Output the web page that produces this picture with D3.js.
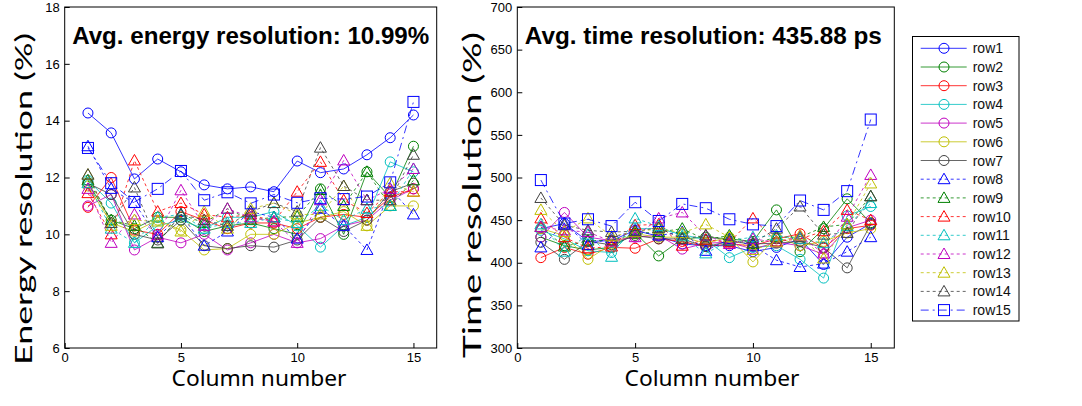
<!DOCTYPE html>
<html><head><meta charset="utf-8">
<script src="https://cdn.jsdelivr.net/npm/d3@7"></script>
<style>body{margin:0;background:#fff;} svg{display:block;}</style>
</head><body>
<svg id="chart" width="1082" height="406"></svg>
<script>
const columns = d3.range(1, 16);
const seriesNames = ["row1","row2","row3","row4","row5","row6","row7","row8","row9","row10","row11","row12","row13","row14","row15"];
const xTicks = [0,5,10,15];
const energyTicks = [6,8,10,12,14,16,18];
const timeTicks = [300,350,400,450,500,550,600,650,700];

const energyRow1  = [14.27,13.57,11.95,12.65,12.2,11.74,11.6,11.67,11.5,12.58,12.17,12.3,12.8,13.4,14.2];
const energyRow2  = [11.8,10.5,10.2,10.6,10.6,10.1,10.3,10.4,10.2,10.0,11.6,10.0,12.2,11.3,13.1];
const energyRow3  = [10.95,12.0,10.15,10.0,10.8,10.5,10.2,10.4,10.4,10.2,10.6,10.7,10.6,11.3,11.6];
const energyRow4  = [11.9,11.1,9.7,10.3,10.5,10.2,10.6,10.6,10.8,10.3,9.55,10.3,10.6,12.55,12.2];
const energyRow5  = [11.0,11.4,9.45,9.9,9.7,10.0,9.45,9.7,10.0,9.7,9.85,10.3,10.5,11.2,11.6];
const energyRow6  = [11.7,10.4,10.1,10.5,10.15,9.45,9.5,10.0,10.0,10.4,10.6,10.8,10.3,11.0,11.0];
const energyRow7  = [11.8,11.4,10.0,9.8,10.5,9.6,9.5,9.6,9.55,9.8,10.6,10.1,10.5,11.5,11.8];
const energyRow8  = [13.1,11.6,11.1,9.9,10.7,9.6,10.1,10.8,10.6,9.85,10.9,10.3,9.45,11.6,10.7];
const energyRow9  = [11.9,10.5,10.3,9.7,10.7,10.4,10.9,10.5,10.6,10.62,11.56,11.0,12.2,11.0,11.9];
const energyRow10 = [11.45,10.0,12.6,10.8,11.1,10.7,10.6,10.7,10.45,11.5,12.55,11.2,10.75,11.5,11.5];
const energyRow11 = [11.8,10.2,9.7,10.6,10.7,10.2,10.4,10.4,10.6,10.4,11.0,10.5,10.9,11.0,12.3];
const energyRow12 = [11.6,9.7,10.7,9.98,11.55,10.3,10.9,10.6,10.45,9.7,11.2,12.6,11.2,11.6,12.3];
const energyRow13 = [12.1,10.3,10.5,10.45,10.1,10.8,10.2,10.9,11.1,10.7,10.7,11.7,10.3,11.8,11.5];
const energyRow14 = [12.1,10.4,11.65,9.68,10.7,10.5,10.3,10.8,11.1,10.8,13.05,11.7,11.2,11.2,12.8];
const energyRow15 = [13.04,11.8,11.14,11.6,12.23,11.2,11.48,11.09,11.4,11.11,11.27,11.24,11.33,11.83,14.66];

const timeRow1  = [440,446,425,426,438,431,422,420,420,413,418,428,398,430,446];
const timeRow2  = [430,420,415,418,435,408,428,430,428,425,462,413,440,475,447];
const timeRow3  = [406,418,410,418,417,428,425,419,422,420,428,434,417,440,444];
const timeRow4  = [438,428,414,412,440,440,433,427,406,418,420,404,382,455,466];
const timeRow5  = [430,459,430,426,430,432,416,423,424,416,424,420,410,441,450];
const timeRow6  = [440,432,404,422,434,430,430,423,430,401,430,420,425,435,440];
const timeRow7  = [424,404,425,421,432,428,428,419,425,422,423,425,418,394,445];
const timeRow8  = [418,446,421,429,438,432,436,414,428,420,403,395,399,413,430];
const timeRow9  = [442,419,426,426,434,436,440,427,432,422,430,430,442,445,478];
const timeRow10 = [452,430,417,419,444,445,420,427,424,452,425,428,437,462,450];
const timeRow11 = [445,413,433,407,452,443,431,411,426,430,432,428,423,443,470];
const timeRow12 = [442,438,436,425,430,452,459,432,422,428,424,431,411,454,503];
const timeRow13 = [462,436,452,431,436,440,435,445,430,415,424,432,405,445,493];
const timeRow14 = [476,444,438,436,437,441,428,432,426,423,440,466,433,435,478];
const timeRow15 = [497,446,451,443,471,449,469,464,451,445,443,473,462,484,568];

const energyData = [energyRow1,energyRow2,energyRow3,energyRow4,energyRow5,energyRow6,energyRow7,energyRow8,energyRow9,energyRow10,energyRow11,energyRow12,energyRow13,energyRow14,energyRow15];
const timeData = [timeRow1,timeRow2,timeRow3,timeRow4,timeRow5,timeRow6,timeRow7,timeRow8,timeRow9,timeRow10,timeRow11,timeRow12,timeRow13,timeRow14,timeRow15];

const colors = ["#0000ff","#008000","#ff0000","#00bfbf","#bf00bf","#bfbf00","#404040","#0000ff","#008000","#ff0000","#00bfbf","#bf00bf","#bfbf00","#404040","#0000ff"];
const markerOf = i => i < 7 ? "circle" : (i < 14 ? "triangle" : "square");
const dashOf = i => i < 7 ? null : (i < 14 ? "3,3" : "8,4,2,4");

const svg = d3.select("#chart");

function drawMarker(g, type, x, y, color) {
  if (type === "circle") {
    g.append("circle").attr("cx", x).attr("cy", y).attr("r", 5)
      .attr("fill", "none").attr("stroke", color).attr("stroke-width", 1);
  } else if (type === "triangle") {
    g.append("path").attr("d", `M${x},${y-6}L${x+6},${y+4.5}L${x-6},${y+4.5}Z`)
      .attr("fill", "none").attr("stroke", color).attr("stroke-width", 1);
  } else {
    g.append("rect").attr("x", x-5.5).attr("y", y-5.5).attr("width", 11).attr("height", 11)
      .attr("fill", "none").attr("stroke", color).attr("stroke-width", 1);
  }
}

function panel(opts) {
  const x = d3.scaleLinear().domain([0,16]).range([opts.x0, opts.x1]);
  const y = d3.scaleLinear().domain(opts.ydom).range([348, 7]);
  const g = svg.append("g");
  opts.data.forEach((vals, i) => {
    const line = d3.line().x((d,j) => x(columns[j])).y(d => y(d));
    g.append("path").datum(vals).attr("d", line).attr("fill","none")
      .attr("stroke", colors[i]).attr("stroke-width", 0.8)
      .attr("stroke-dasharray", dashOf(i));
    vals.forEach((v,j) => drawMarker(g, markerOf(i), x(columns[j]), y(v), colors[i]));
  });
  const xa = g.append("g").attr("transform", "translate(0,348)")
    .call(d3.axisBottom(x).tickValues(xTicks).tickSize(-5).tickPadding(5).tickFormat(d3.format("d")));
  const ya = g.append("g").attr("transform", `translate(${opts.x0},0)`)
    .call(d3.axisLeft(y).tickValues(opts.yticks).tickSize(-5).tickPadding(5).tickFormat(d3.format("d")));
  [xa, ya].forEach(a => {
    a.select(".domain").remove();
    a.selectAll("line").attr("stroke", "#000");
    a.selectAll("text").attr("font-family", "Liberation Sans, Arial, sans-serif").attr("font-size", 13).attr("fill", "#000");
  });
  ya.selectAll("text").attr("dy", "0.32em");
  g.append("rect").attr("x", opts.x0).attr("y", 7).attr("width", opts.x1 - opts.x0).attr("height", 341)
    .attr("fill", "none").attr("stroke", "#000").attr("stroke-width", 1);
  g.append("text").attr("x", opts.x0 + 7.5).attr("y", 44).text(opts.title)
    .attr("font-family", "Liberation Sans, Arial, sans-serif").attr("font-weight", "bold").attr("font-size", 23)
    .attr("textLength", 357).attr("lengthAdjust", "spacingAndGlyphs");
  g.append("text").attr("x", opts.xlabelX).attr("y", 386).attr("text-anchor", "middle")
    .attr("font-family", "Noto Sans, sans-serif").attr("font-size", 21)
    .attr("textLength", 175).attr("lengthAdjust", "spacingAndGlyphs").text("Column number");
  g.append("text").attr("transform", `translate(${opts.ylabelX},${opts.ylabelY}) rotate(-90)`)
    .attr("text-anchor", "middle").attr("font-family", "Lato, sans-serif").attr("font-size", opts.ylabelSize)
    .attr("textLength", opts.ylabelLen).attr("lengthAdjust", "spacingAndGlyphs").text(opts.ylabel);
}

panel({x0: 64.7, x1: 436.7, ydom: [6,18], yticks: energyTicks, data: energyData,
  title: "Avg. energy resolution: 10.99%", xlabelX: 259, ylabel: "Energy resolution (%)",
  ylabelX: 32, ylabelY: 199, ylabelSize: 23, ylabelLen: 332});
panel({x0: 517.3, x1: 894.3, ydom: [300,700], yticks: timeTicks, data: timeData,
  title: "Avg. time resolution: 435.88 ps", xlabelX: 712, ylabel: "Time resolution (%)",
  ylabelX: 481, ylabelY: 195, ylabelSize: 25, ylabelLen: 326});

const lg = svg.append("g");
lg.append("rect").attr("x", 912.5).attr("y", 36.5).attr("width", 106.5).attr("height", 284.5)
  .attr("fill", "#fff").attr("stroke", "#000").attr("stroke-width", 1);
seriesNames.forEach((name, i) => {
  const yy = 48.3 + 18.7 * i;
  lg.append("line").attr("x1", 920.7).attr("x2", 966.7).attr("y1", yy).attr("y2", yy)
    .attr("stroke", colors[i]).attr("stroke-width", 0.8).attr("stroke-dasharray", dashOf(i));
  drawMarker(lg, markerOf(i), 944, yy, colors[i]);
  lg.append("text").attr("x", 972.7).attr("y", yy + 5).text(name)
    .attr("font-family", "Liberation Sans, Arial, sans-serif").attr("font-size", 14).attr("fill", "#111");
});
</script>
</body></html>
